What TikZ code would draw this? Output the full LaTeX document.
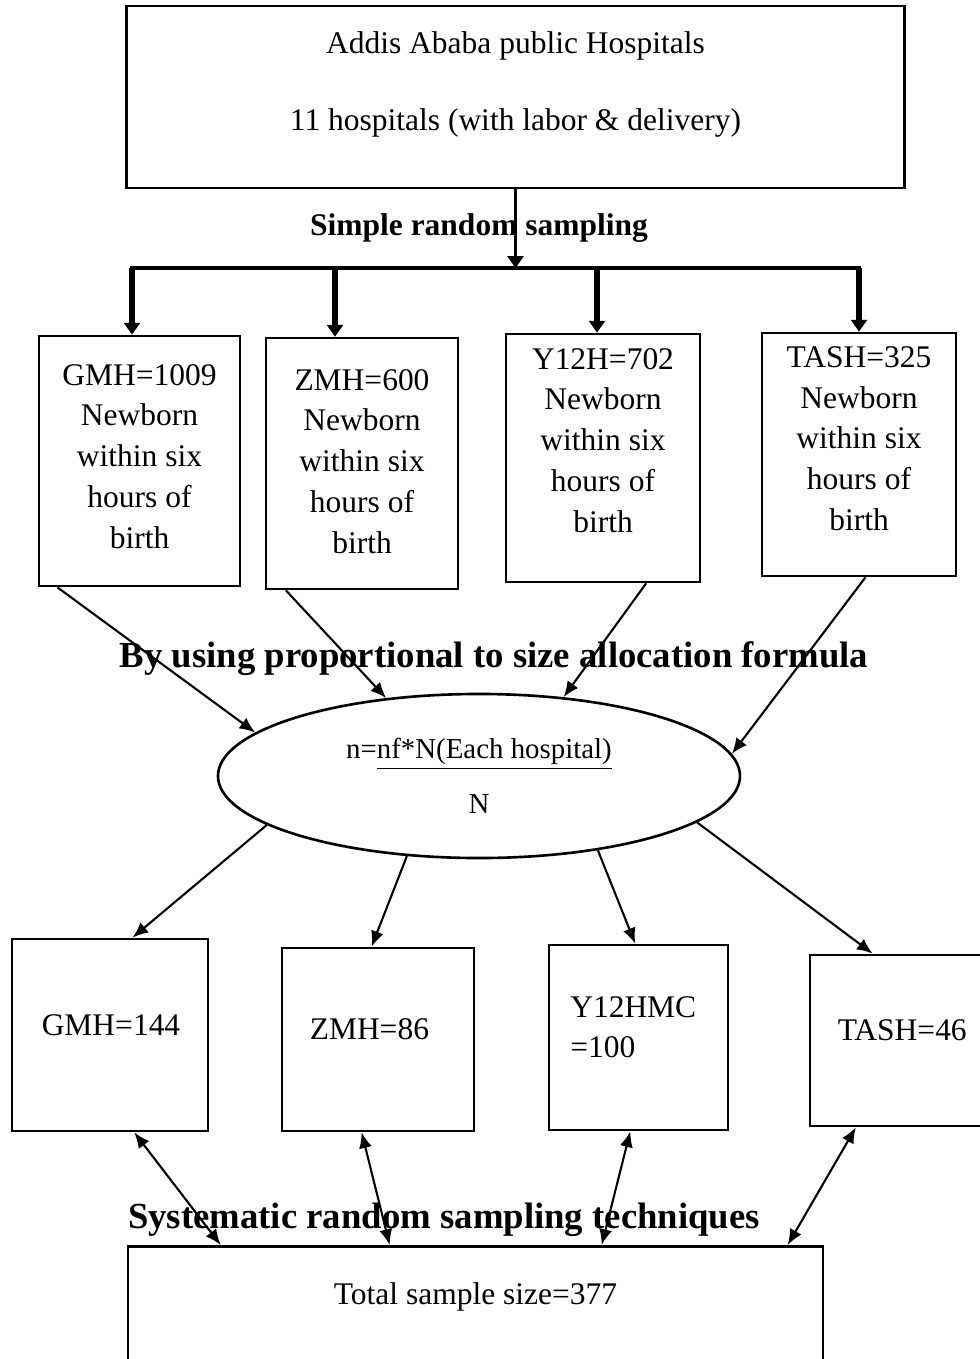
\documentclass[tikz,border=0pt]{standalone}
\usepackage{fontspec}
\setmainfont{Liberation Serif}
\usetikzlibrary{arrows.meta, calc, shapes.geometric}
\tikzset{%
	frame/.style={draw, rectangle, line width=1pt, inner sep=0pt},
	topbox/.style={frame, minimum width=296.4pt, minimum height=69.3pt, align=center,%
		text height=27.2pt, text depth=2pt},
	hosp/.style={frame, align=center, text depth=2pt},
	share/.style={frame, inner xsep=7pt, text width=52pt, align=left,%
		text height=8pt, text depth=8pt},
	formula/.style={draw, ellipse, line width=1pt, inner sep=0pt, minimum width=198.9pt,%
		minimum height=62.5pt, align=center, font=\fontsize{11}{13}\selectfont},
	title/.style={font=\fontsize{14}{16}\selectfont\bfseries, inner sep=0pt, anchor=base},
	feed/.style={-{Triangle[length=4.5pt,width=6pt]}, line width=2pt},
	link/.style={-{Latex[length=6pt,width=5pt]}, line width=0.8pt},
	twoway/.style={{Latex[length=6pt,width=5pt]}-{Latex[length=6pt,width=5pt]}, line width=0.8pt}
}
\begin{document}
\begin{tikzpicture}[x=0.381pt, y=-0.381pt, every node/.append style={font=\fontsize{12}{15.5}\selectfont}]
	\useasboundingbox (0,0) rectangle (980,1359);
	\clip (0,0) rectangle (980,1359);

	% all hospitals
	\node[topbox] (aa) at (515.5,97) {Addis Ababa public Hospitals\\[13.8pt]11 hospitals (with labor \& delivery)};
	\node[title, font=\fontsize{12}{14}\selectfont\bfseries] (srs) at (479,235) {Simple random sampling};

	% source population per hospital
	\node[hosp, minimum width=76.6pt, minimum height=95.3pt, text height=68.3pt] (gmh) at (139.5,461) {GMH=1009\\Newborn\\within six\\hours of\\birth};
	\node[hosp, minimum width=73.2pt, minimum height=95.6pt, text height=70.2pt] (zmh) at (362,463.5) {ZMH=600\\Newborn\\within six\\hours of\\birth};
	\node[hosp, minimum width=73.9pt, minimum height=94.5pt, text height=58.4pt] (y12h) at (603,458) {Y12H=702\\Newborn\\within six\\hours of\\birth};
	\node[hosp, minimum width=73.9pt, minimum height=92.6pt, text height=59.6pt] (tash) at (859,454.5) {TASH=325\\Newborn\\within six\\hours of\\birth};

	\node[title] (pps) at (494,667) {By using proportional to size allocation formula};
	\node[formula] (ell) at (479,776) {n=\underline{nf*N(Each hospital)}\\[8pt]N};

	% allocated sample per hospital
	\node[share, minimum width=74.7pt, minimum height=73.2pt] (g144) at (110,1035) {GMH=144};
	\node[share, minimum width=73.2pt, minimum height=69.7pt] (z86) at (378,1039.5) {ZMH=86};
	\node[share, minimum width=68.2pt, minimum height=70.5pt, text depth=23.6pt] (y100) at (638.5,1037.5) {Y12HMC\\=100};
	\node[share, minimum width=73.2pt, minimum height=65.2pt] (t46) at (906,1040.5) {TASH=46};

	\node[title] (sys) at (444,1228) {Systematic random sampling techniques};
	\node[frame, minimum width=264.8pt, minimum height=61pt, text height=8pt, text depth=24.8pt, anchor=north] (tot) at (475.5,1245) {Total sample size=377};

	% simple random sampling
	\coordinate (hub) at (515.5,268);
	\coordinate (b1) at (132,268);
	\coordinate (b2) at (335,268);
	\coordinate (b3) at (597,268);
	\coordinate (b4) at (859,268);
	\draw[line width=1.8pt, line cap=rect] (b1) -- (b4);
	\draw[feed, line width=1.5pt] (aa.south) -- (hub);
	\foreach \b/\h in {b1/gmh, b2/zmh, b3/y12h, b4/tash}
		\draw[feed] (\b) -- (\b |- \h.north);

	% into the formula
	\draw[link] (gmh.-123) -- (ell.169.5);
	\draw[link] (zmh.-121) -- (ell.140);
	\draw[link] (y12h.-71) -- (ell.43);
	\draw[link] (tash.-87) -- (ell.5);

	% out of the formula
	\draw[link] (ell.193.7) -- (g144.77);
	\draw[link] (ell.228) -- (z86.94);
	\draw[link] (ell.328) -- (y100.92);
	\draw[link] (ell.348) -- (t46.111);

	% systematic sampling
	\draw[twoway] (g144.-76) -- ($(tot.north west)+(94,0)$);
	\draw[twoway] (z86.-100) -- ($(tot.north west)+(263,0)$);
	\draw[twoway] (y100.-95.2) -- ($(tot.north west)+(475,0)$);
	\draw[twoway] (t46.-120.3) -- ($(tot.north west)+(661,0)$);
\end{tikzpicture}
\end{document}
